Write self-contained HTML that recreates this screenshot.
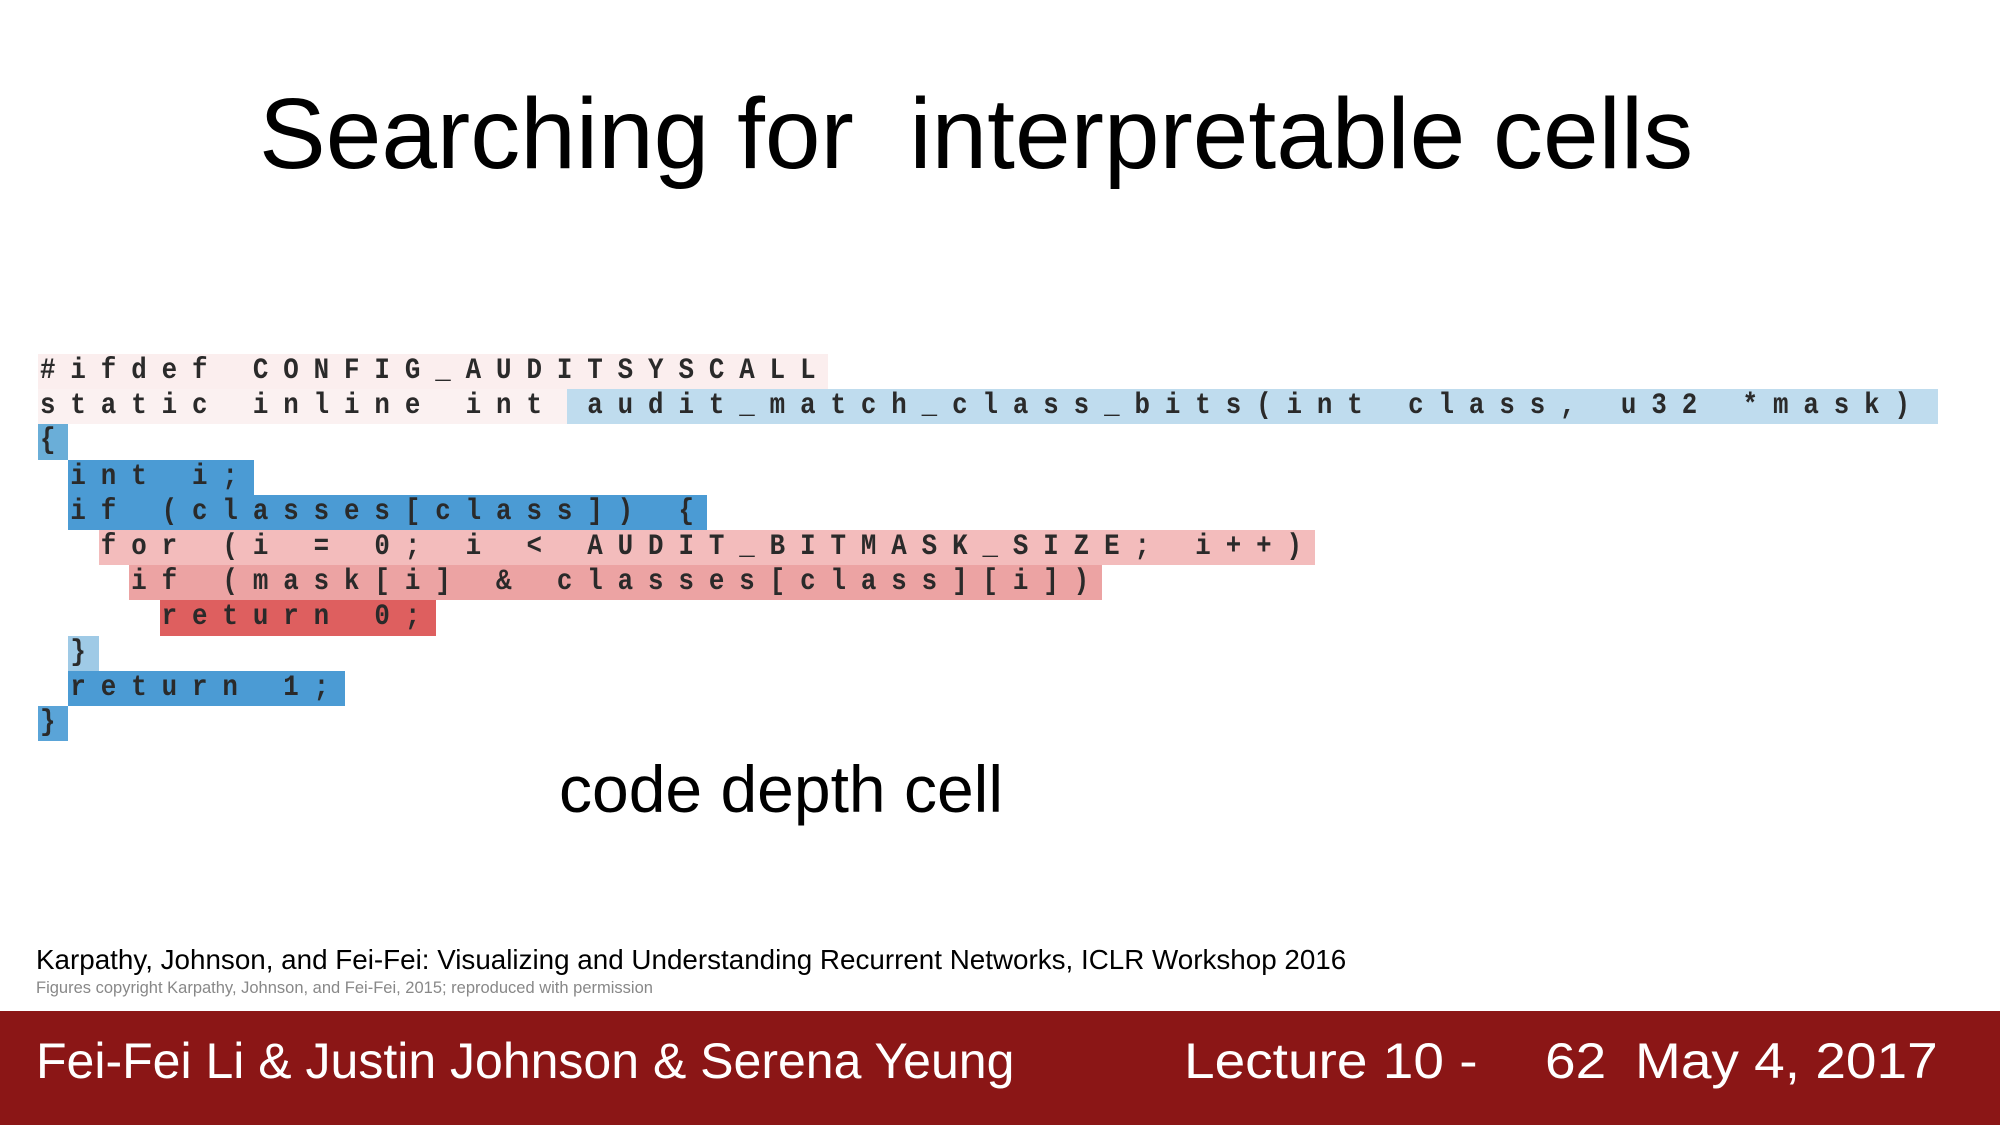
<!DOCTYPE html>
<html><head><meta charset="utf-8">
<style>
html,body{margin:0;padding:0}
body{width:2000px;height:1125px;position:relative;background:#fff;overflow:hidden;font-family:"Liberation Sans",Arial,sans-serif}
.abs{position:absolute;white-space:nowrap}
#title{left:259px;top:76px;font-size:100px;line-height:116px;color:#000}
#code{position:absolute;left:0;top:0;width:2000px;height:800px}
.hl{position:absolute}
.ln{position:absolute;font-family:"Liberation Mono",monospace;font-size:30px;color:#2a2a2a;font-weight:bold;line-height:35px;white-space:pre;transform:scaleX(0.86);transform-origin:0 50%}
#caption{left:559px;top:751px;font-size:66px;line-height:76px;color:#000}
#cite{left:36px;top:944px;font-size:27.8px;line-height:32px;color:#000}
#copy{left:36px;top:978px;font-size:16.5px;line-height:20px;color:#888}
#footer{position:absolute;left:0;top:1011px;width:2000px;height:114px;background:#8b1616}
.ft{position:absolute;top:1032px;font-size:50px;line-height:58px;color:#fff;white-space:nowrap;transform-origin:0 50%}
</style></head>
<body>
<div id="title" class="abs">Searching for&nbsp; interpretable cells</div>
<div id="code"></div>
<div id="caption" class="abs">code depth cell</div>
<div id="cite" class="abs">Karpathy, Johnson, and Fei-Fei: Visualizing and Understanding Recurrent Networks, ICLR Workshop 2016</div>
<div id="copy" class="abs">Figures copyright Karpathy, Johnson, and Fei-Fei, 2015; reproduced with permission</div>
<div id="footer"></div>
<div class="ft" style="left:36px">Fei-Fei Li &amp; Justin Johnson &amp; Serena Yeung</div>
<div class="ft" style="left:1184px;transform:scaleX(1.1)">Lecture 10 -</div>
<div class="ft" style="left:1545px;transform:scaleX(1.1)">62</div>
<div class="ft" style="left:1635px;transform:scaleX(1.1)">May 4, 2017</div>
<script>
const codeLines = ["#ifdef CONFIG_AUDITSYSCALL","static inline int audit_match_class_bits(int class, u32 *mask)","{"," int i;"," if (classes[class]) {","  for (i = 0; i < AUDIT_BITMASK_SIZE; i++)","   if (mask[i] & classes[class][i])","    return 0;"," }"," return 1;","}"];
// highlight segments: [line, startCol, endCol, color]
const hlLine = [0,1,1,2,3,4,5,6,7,8,9,10];
const hlStart = [0,0,17.4,0,1,1,2,3,4,1,1,0];
const hlEnd = [26,17.4,62.5,1,7.1,22,42,35,13.1,2,10.1,1];
const hlColor = ["#fbeeee","#fbf1f1","#bfdcee","#6aaed8","#4b9bd4","#4b9bd4","#f3bcbc","#eca3a3","#de5f5f","#9fcae6","#4b9bd4","#5aa4d8"];
const x0 = 38, y0 = 354, pitch = 30.4, lineH = 35.2;
const root = document.getElementById('code');
for (let i = 0; i < hlLine.length; i++) {
  const d = document.createElement('div');
  d.className = 'hl';
  
  
  d.style.left = (x0 + hlStart[i] * pitch) + 'px';
  d.style.width = ((hlEnd[i] - hlStart[i]) * pitch) + 'px';
  d.style.top = (y0 + hlLine[i] * lineH) + 'px';
  d.style.height = lineH + 'px';
  d.style.background = hlColor[i];
  root.appendChild(d);
}
for (let i = 0; i < codeLines.length; i++) {
  const t = document.createElement('div');
  t.className = 'ln';
  
  
  t.style.left = (x0 + 2) + 'px';
  t.style.top = (y0 + i * lineH) + 'px';
  t.style.letterSpacing = (pitch / 0.86 - 18) + 'px';
  t.textContent = codeLines[i];
  root.appendChild(t);
}
</script>
</body></html>
